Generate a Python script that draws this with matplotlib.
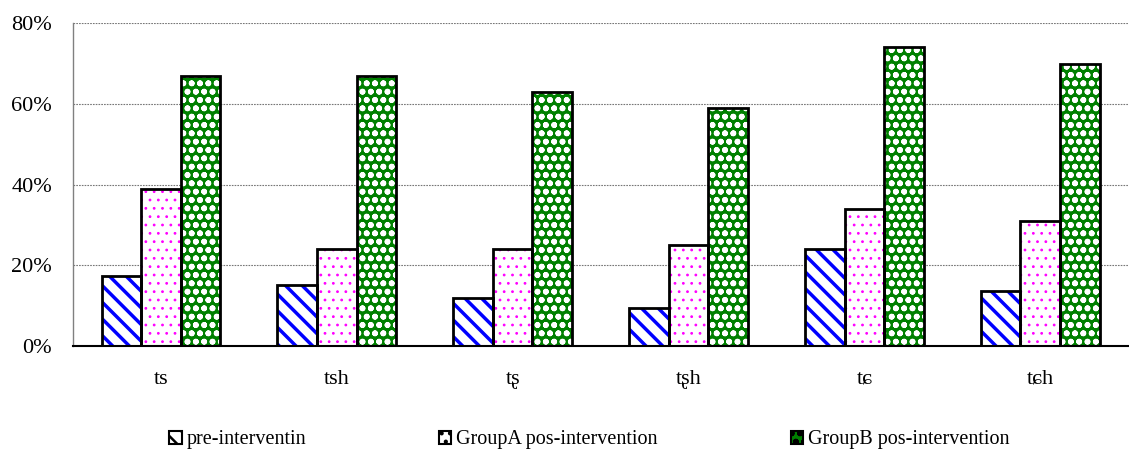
import matplotlib
matplotlib.use("Agg")
import matplotlib.pyplot as plt
import numpy as np

plt.rcParams['font.family'] = ['Liberation Serif', 'DejaVu Serif']

categories = ['ts', 'tsh', 'tʂ', 'tʂh', 'tɕ', 'tɕh']
pre = [17.3, 15, 12, 9.5, 24, 13.5]
group_a = [38.9, 24, 24, 25, 34, 31]
group_b = [67, 67, 63, 59, 74, 70]
series_names = ['pre-interventin', 'GroupA pos-intervention', 'GroupB pos-intervention']

fig = plt.figure(figsize=(11.29, 4.54), dpi=100)
ax = fig.add_axes([0.0647, 0.238, 0.9345, 0.711])

x = np.arange(len(categories))
w = 0.225

styles = [
    dict(face='white', hatch='\\\\', hcolor='#0000ff', hlw=2.5),
    dict(face='white', hatch='..', hcolor='#ff00ff', hlw=0.8),
    dict(face='#008000', hatch='oo', hcolor='white', hlw=1.8),
]

handles = []
for i, (vals, st, name) in enumerate(zip([pre, group_a, group_b], styles, series_names)):
    pos = x + (i - 1) * w
    plt.rcParams['hatch.linewidth'] = st['hlw']
    ax.bar(pos, vals, w, facecolor=st['face'], edgecolor=st['hcolor'],
           hatch=st['hatch'], linewidth=0, zorder=2)
    ax.bar(pos, vals, w, facecolor='none', edgecolor='black', linewidth=2, zorder=3)
    h = ax.bar([0], [0], 0, facecolor=st['face'], edgecolor=st['hcolor'],
               hatch=st['hatch'], linewidth=0, label=name)
    handles.append(h)

ax.set_xlim(-0.5, len(categories) - 0.5)
ax.set_ylim(0, 80)
ax.set_yticks([0, 20, 40, 60, 80])
ax.set_yticklabels(['0%', '20%', '40%', '60%', '80%'])
ax.set_xticks(x)
ax.set_xticklabels(categories)
ax.tick_params(axis='both', length=0, labelsize=16)
ax.tick_params(axis='x', pad=17)
ax.tick_params(axis='y', pad=15)
ax.yaxis.grid(True, linestyle=(0, (1.5, 1)), color='#777777', linewidth=0.8, zorder=0)
ax.set_axisbelow(True)

for s in ['top', 'right']:
    ax.spines[s].set_visible(False)
ax.spines['left'].set_color('#808080')
ax.spines['left'].set_linewidth(1)
ax.spines['bottom'].set_color('black')
ax.spines['bottom'].set_linewidth(1.5)
ax.spines['bottom'].set_zorder(4)

leg = fig.legend(handles=handles, labels=series_names, loc='center',
                 bbox_to_anchor=(0.522, 0.031), ncol=3, frameon=False,
                 fontsize=14.5, handlelength=0.6, handleheight=0.6,
                 handletextpad=0.25, columnspacing=6.6)
for p in leg.get_patches():
    p.set_edgecolor('black')
    p.set_linewidth(1.5)

fig.savefig('out.png', dpi=100)
